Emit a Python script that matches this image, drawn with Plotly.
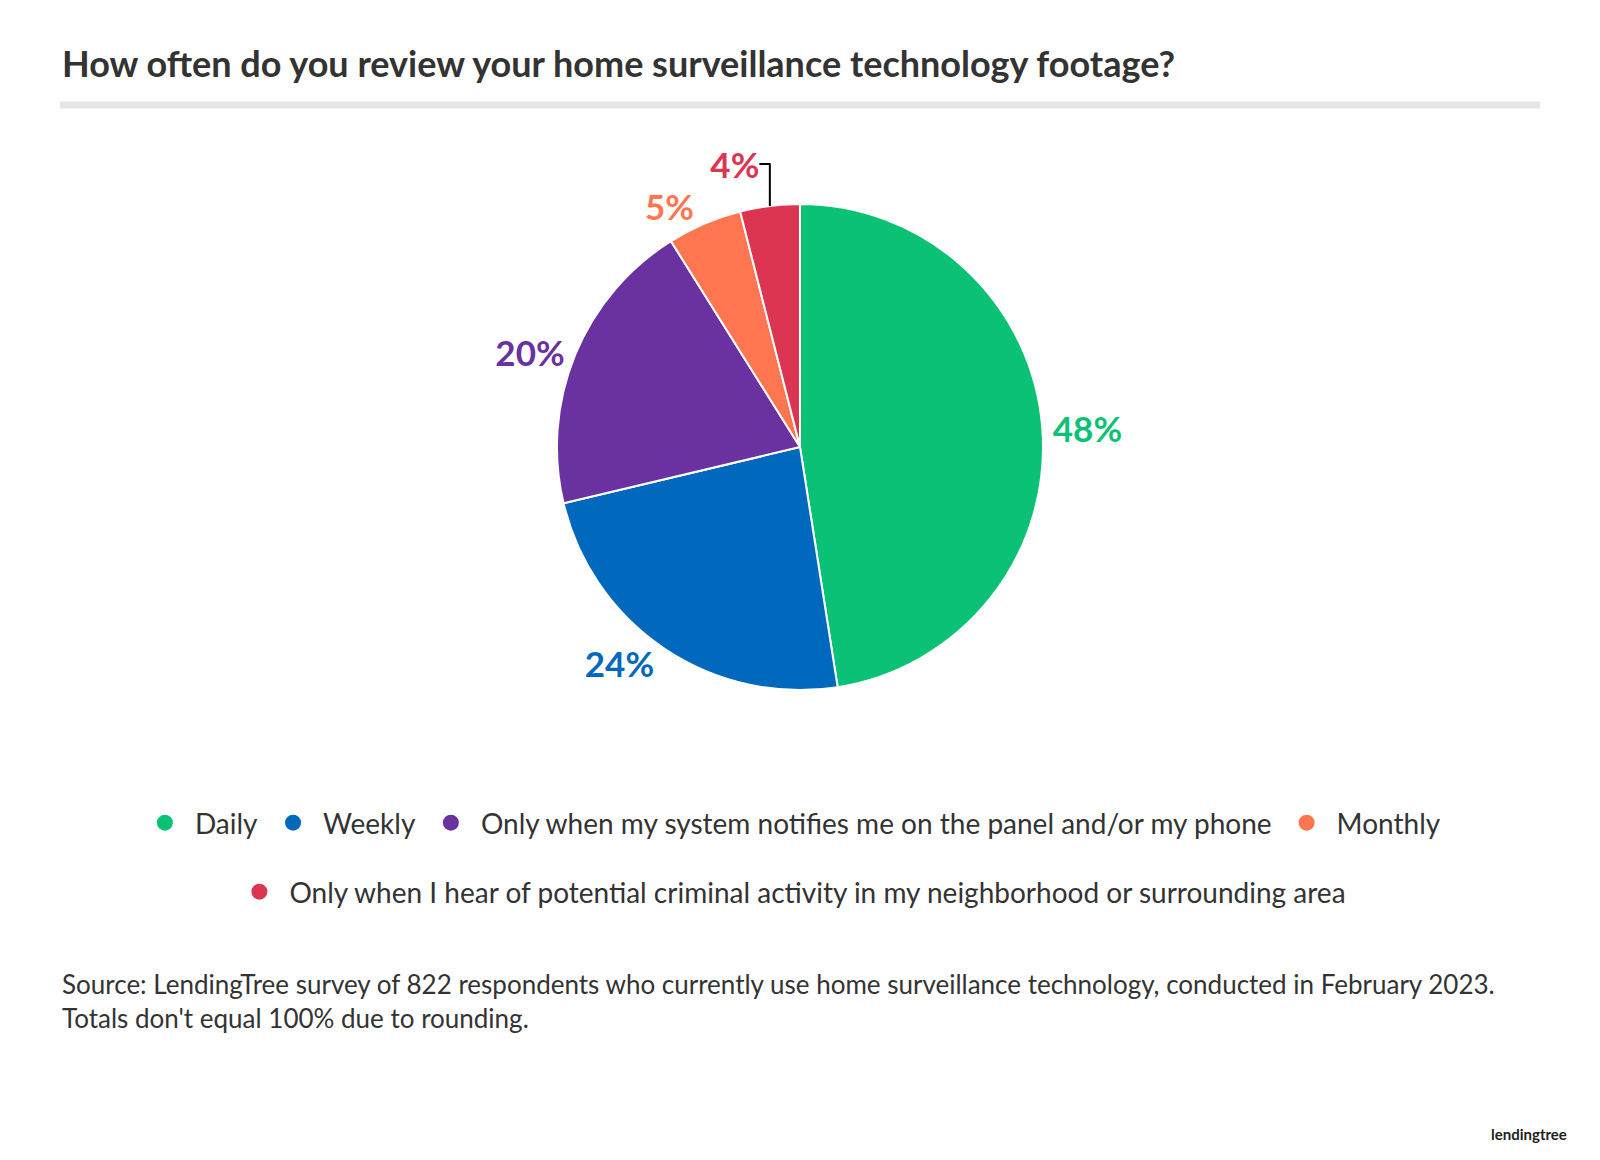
import plotly.graph_objects as go

labels = ["Daily", "Weekly", "Only when my system notifies me on the panel and/or my phone",
          "Monthly", "Only when I hear of potential criminal activity in my neighborhood or surrounding area"]
values = [48, 24, 20, 5, 4]
colors = ["#0bc175", "#0068bd", "#6a31a0", "#ff7650", "#dc3552"]

W, H = 1600, 1160
fig = go.Figure(go.Pie(
    labels=labels, values=values, sort=False, direction="clockwise", rotation=0,
    marker=dict(colors=colors, line=dict(color="white", width=2)),
    texttemplate="<b>%{value}%</b>", textposition="outside",
    textfont=dict(family="Lato", size=35, color=colors),
    domain=dict(x=[0.2, 0.79], y=[0.412, 0.831]),
    hoverinfo="skip", showlegend=False,
))
for i, (lab, col) in enumerate(zip(labels, colors)):
    fig.add_trace(go.Scatter(x=[None], y=[None], mode="markers", name=lab,
                             marker=dict(color=col, size=32, symbol="circle"),
                             legend="legend2" if i == 4 else "legend"))
fig.update_layout(
    width=W, height=H, margin=dict(l=0, r=0, t=0, b=0),
    paper_bgcolor="white", plot_bgcolor="white", font=dict(family="Lato", color="#333333"),
    xaxis=dict(visible=False), yaxis=dict(visible=False),
    legend=dict(orientation="h", x=0.489, xanchor="center", y=1-815/H, yanchor="middle",
                font=dict(size=28, color="#333333"), itemsizing="trace", itemwidth=50),
    legend2=dict(orientation="h", x=0.489, xanchor="center", y=1-884/H, yanchor="middle",
                 font=dict(size=28, color="#333333"), itemsizing="trace", itemwidth=50),
    shapes=[dict(type="line", xref="paper", yref="paper", x0=52/W, x1=1532/W,
                 y0=1-97/H, y1=1-97/H, line=dict(color="#e5e5e5", width=7))],
    annotations=[
        dict(text="<b>How often do you review your home surveillance technology footage?</b>",
             x=52/W, y=1-55/H, xref="paper", yref="paper", xanchor="left", yanchor="middle",
             showarrow=False, font=dict(size=36, color="#333333")),
        dict(text="Source: LendingTree survey of 822 respondents who currently use home surveillance technology, conducted in February 2023.<br>Totals don't equal 100% due to rounding.",
             x=52/W, y=1-958/H, xref="paper", yref="paper", xanchor="left", yanchor="top",
             align="left", showarrow=False, font=dict(size=26, color="#333333")),
        dict(text="<b>lendingtree</b>", x=1561/W, y=1-1126/H, xref="paper", yref="paper",
             xanchor="right", yanchor="middle", showarrow=False,
             font=dict(size=15, color="#222222")),
    ],
)
fig.write_html("out.html")
